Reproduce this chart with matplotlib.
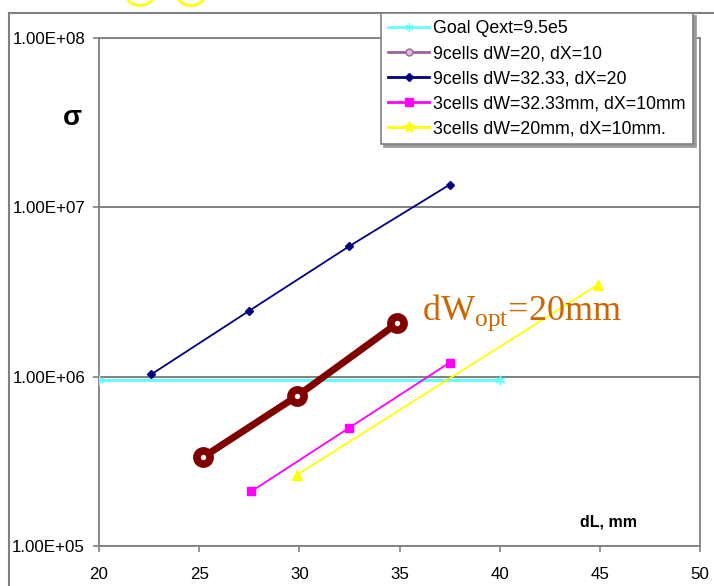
import matplotlib
matplotlib.use("Agg")
import matplotlib.pyplot as plt
from matplotlib.lines import Line2D
from matplotlib.patches import Circle
from matplotlib.ticker import FixedLocator, FuncFormatter, NullLocator

plt.rcParams['font.family'] = ['Liberation Sans', 'DejaVu Sans']
plt.rcParams['mathtext.fontset'] = 'custom'
plt.rcParams['mathtext.rm'] = 'Liberation Serif'

# ---- data ----
x_goal = [20, 40]
y_goal = [9.5e5, 9.5e5]

x_9c_dw20 = [25.2, 29.9, 34.9]
y_9c_dw20 = [3.35e5, 7.7e5, 2.07e6]

x_9c_dw32 = [22.6, 27.5, 32.5, 37.5]
y_9c_dw32 = [1.03e6, 2.45e6, 5.9e6, 1.36e7]

x_3c_dw32 = [27.6, 32.5, 37.5]
y_3c_dw32 = [2.1e5, 5.0e5, 1.21e6]

x_3c_dw20 = [29.9, 44.9]
y_3c_dw20 = [2.64e5, 3.49e6]

labels = ["Goal Qext=9.5e5", "9cells dW=20, dX=10", "9cells dW=32.33, dX=20",
          "3cells dW=32.33mm, dX=10mm", "3cells dW=20mm, dX=10mm."]
x_ticks = [20, 25, 30, 35, 40, 45, 50]
y_ticks = [1e5, 1e6, 1e7, 1e8]

W, H = 714, 586
fig = plt.figure(figsize=(W / 100, H / 100), dpi=100)
ax = fig.add_axes([99 / W, 1 - 546 / H, (700 - 99) / W, (546 - 38) / H])

ax.set_yscale('log')
ax.set_xlim(20, 50)
ax.set_ylim(1e5, 1e8)

grid_c = '#808080'
for s in ax.spines.values():
    s.set_color(grid_c)
    s.set_linewidth(1.3)

ax.xaxis.set_major_locator(FixedLocator(x_ticks))
ax.yaxis.set_major_locator(FixedLocator(y_ticks))
ax.yaxis.set_minor_locator(NullLocator())
ax.yaxis.set_major_formatter(FuncFormatter(lambda v, p: f"{v:.2E}"))
ax.tick_params(axis='both', direction='out', length=4, width=1.2, color=grid_c,
               labelsize=12.2, labelcolor='black')
ax.tick_params(axis='x', pad=11)
ax.tick_params(axis='y', pad=6)
ax.grid(axis='y', which='major', color=grid_c, linewidth=1.4)
ax.set_axisbelow(True)

# series
ax.plot(x_goal, y_goal, color='#66FFFF', lw=2.2, marker=(6, 2, 0), ms=7,
        mec='#66FFFF', zorder=3)
ax.plot(x_9c_dw32, y_9c_dw32, color='#000080', lw=1.3, marker='D', ms=4,
        mfc='#000080', mec='#000080', zorder=4)
ax.plot(x_3c_dw32, y_3c_dw32, color='#FF00FF', lw=1.3, marker='s', ms=6,
        mfc='#FF00FF', mec='#FF00FF', zorder=4)
ax.plot(x_3c_dw20, y_3c_dw20, color='#FFFF00', lw=1.3, marker='^', ms=7,
        mfc='#FFFF00', mec='#FFFF00', zorder=4)
ax.plot(x_9c_dw20, y_9c_dw20, color='#800000', lw=5, marker='o', ms=9.5,
        mfc='white', mec='#800000', mew=5.5, zorder=5)

# annotation
ax.text(36.1, 2.17e6, r"dW$_{\mathregular{opt}}$=20mm", fontsize=26,
        family='Liberation Serif', color='#CC6600', va='baseline', ha='left',
        zorder=6)

fig.text(72 / W, 1 - 118 / H, "σ", fontsize=20, fontweight='bold',
         ha='center', va='center')
fig.text(580 / W, 1 - 522 / H, "dL, mm", fontsize=11.5, fontweight='bold',
         ha='left', va='center')

# legend
handles = [
    Line2D([], [], color='#66FFFF', lw=2, marker=(6, 2, 0), ms=6, mec='#66FFFF'),
    Line2D([], [], color='#996699', lw=2, marker='o', ms=5, mfc='#DDBBDD', mec='#996699'),
    Line2D([], [], color='#000080', lw=2, marker='D', ms=4, mfc='#000080', mec='#000080'),
    Line2D([], [], color='#FF00FF', lw=2, marker='s', ms=6, mfc='#FF00FF', mec='#FF00FF'),
    Line2D([], [], color='#FFFF00', lw=2, marker='*', ms=8, mfc='#FFFF00', mec='#FFFF00'),
]
leg = fig.legend(handles, labels, loc='upper left',
                 bbox_to_anchor=(381 / W, 1 - 13 / H), bbox_transform=fig.transFigure,
                 fontsize=12.8, frameon=True, fancybox=False, framealpha=1,
                 edgecolor='#808080', handlelength=2.3, handletextpad=0.25,
                 labelspacing=0.45, borderpad=0.4, borderaxespad=0,
                 shadow={'color': '#999999', 'alpha': 1})
leg.get_frame().set_linewidth(1.2)
leg.set_zorder(10)

# outer chart frame
fig.add_artist(Line2D([9 / W, 9 / W], [0, 1 - 13 / H], color=grid_c, lw=1.5,
                      transform=fig.transFigure))
fig.add_artist(Line2D([9 / W, 1], [1 - 13 / H, 1 - 13 / H], color=grid_c, lw=1.5,
                      transform=fig.transFigure))

# yellow circle marks at the top edge
for cx in (140, 191):
    c = Circle((cx / W, 1 + 6 / H), 14 / W, transform=fig.transFigure,
               fill=False, edgecolor='#FFFF00', lw=2, clip_on=False)
    fig.add_artist(c)

fig.savefig("out.png", dpi=100)
